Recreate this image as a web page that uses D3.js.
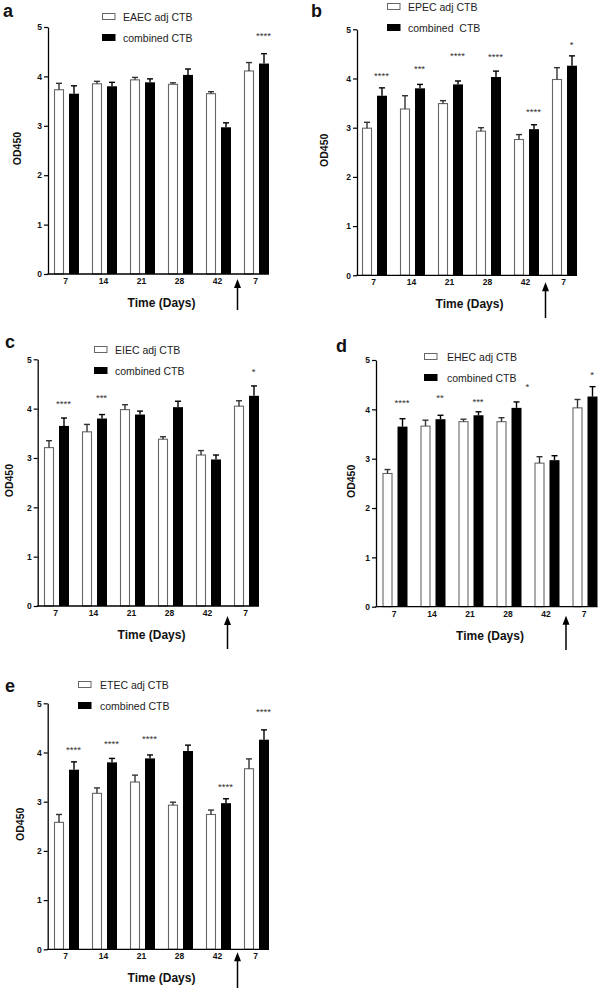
<!DOCTYPE html>
<html>
<head>
<meta charset="utf-8">
<script src="https://cdn.jsdelivr.net/npm/d3@7"></script>
<style>
  html, body { margin: 0; padding: 0; background: #fff; }
  svg { display: block; font-family: "Liberation Sans", Arial, sans-serif; }
</style>
</head>
<body>
<svg id="chart" width="606" height="992"></svg>
<script>
// ---------------- DATA ----------------
const categories = ["7", "14", "21", "28", "42", "7"];
const yTicks = [0, 1, 2, 3, 4, 5];

const combinedCTB = [3.65, 3.80, 3.88, 4.03, 2.97, 4.26];
const combinedErr = [0.16, 0.08, 0.07, 0.12, 0.09, 0.20];

const eaecAdj = [3.73, 3.85, 3.93, 3.84, 3.65, 4.11];
const eaecErr = [0.13, 0.05, 0.05, 0.03, 0.04, 0.17];

const epecAdj = [2.99, 3.38, 3.49, 2.93, 2.76, 3.98];
const epecErr = [0.12, 0.27, 0.06, 0.07, 0.10, 0.24];

const eiecAdj = [3.21, 3.53, 3.98, 3.38, 3.06, 4.05];
const eiecErr = [0.14, 0.15, 0.10, 0.05, 0.09, 0.11];

const ehecAdj = [2.70, 3.66, 3.75, 3.75, 2.91, 4.03];
const ehecErr = [0.08, 0.12, 0.05, 0.08, 0.13, 0.17];

const etecAdj = [2.58, 3.17, 3.40, 2.93, 2.74, 3.67];
const etecErr = [0.16, 0.11, 0.14, 0.06, 0.09, 0.20];

// significance marks: group index, label, height (OD450 units)
const starsA = [{ i: 5, s: "****", v: 4.86 }];
const starsB = [{ i: 0, s: "****", v: 4.09 }, { i: 1, s: "***", v: 4.24 }, { i: 2, s: "****", v: 4.50 },
                { i: 3, s: "****", v: 4.48 }, { i: 4, s: "****", v: 3.36 }, { i: 5, s: "*", v: 4.73 }];
const starsC = [{ i: 0, s: "****", v: 4.14 }, { i: 1, s: "***", v: 4.26 }, { i: 5, s: "*", v: 4.78 }];
const starsD = [{ i: 0, s: "****", v: 4.16 }, { i: 1, s: "**", v: 4.28 }, { i: 2, s: "***", v: 4.19 },
                { i: 3.3, s: "*", v: 4.49 }, { i: 5, s: "*", v: 4.73 }];
const starsE = [{ i: 0, s: "****", v: 4.10 }, { i: 1, s: "****", v: 4.22 }, { i: 2, s: "****", v: 4.31 },
                { i: 4, s: "****", v: 3.33 }, { i: 5, s: "****", v: 4.86 }];

const panelLetters = ["a", "b", "c", "d", "e"];
const adjNames = ["EAEC adj CTB", "EPEC adj CTB", "EIEC adj CTB", "EHEC adj CTB", "ETEC adj CTB"];
const combinedNames = ["combined CTB", "combined  CTB", "combined CTB", "combined CTB", "combined CTB"];
const adjSeries = [eaecAdj, epecAdj, eiecAdj, ehecAdj, etecAdj];
const adjErrors = [eaecErr, epecErr, eiecErr, ehecErr, etecErr];
const starSets = [starsA, starsB, starsC, starsD, starsE];
const xTitle = "Time (Days)";
const yTitle = "OD450";

// ---------------- LAYOUT ----------------
const layouts = [
  { ax: 48,    y0: 274,   y5: 27,    c0: 66.5,  lx: 3,   ly: 17,  bx: 102, by: 13,  tx: 123, yl: 17,  tipOff: 5,  arrowEnd: 310 },
  { ax: 357,   y0: 275.3, y5: 29.3,  c0: 374.5, lx: 311, ly: 17,  bx: 387, by: 3,   tx: 408, yl: 324, tipOff: 7,  arrowEnd: 318 },
  { ax: 37.7,  y0: 606,   y5: 359.3, c0: 56.5,  lx: 5,   ly: 348, bx: 94,  by: 346, tx: 115, yl: 9,   tipOff: 10, arrowEnd: 649 },
  { ax: 376,   y0: 606.7, y5: 360,   c0: 395,   lx: 336, ly: 352, bx: 424, by: 353, tx: 447, yl: 351, tipOff: 9,  arrowEnd: 650 },
  { ax: 47.7,  y0: 949.3, y5: 703.3, c0: 66.5,  lx: 5,   ly: 692, bx: 78,  by: 681, tx: 100, yl: 20,  tipOff: 3,  arrowEnd: 988 }
];

const svg = d3.select("#chart");
const STEP = 38;

layouts.forEach((L, p) => {
  const g = svg.append("g");
  const adj = adjSeries[p], adjE = adjErrors[p];

  const y = d3.scaleLinear().domain([0, 5]).range([L.y0, L.y5]);
  const x = d3.scaleBand().domain(d3.range(categories.length))
    .range([L.c0 - STEP / 2, L.c0 - STEP / 2 + STEP * categories.length]).padding(0);
  const x1 = d3.scaleBand().domain(["adj", "comb"]).range([-12.5, 12.5]).paddingInner(1 / 3);
  const cx = i => x(i) + x.bandwidth() / 2;
  const cxf = v => cx(0) + v * x.step(); // fractional group position

  const rows = categories.map((c, i) => ({ i, c, adj: adj[i], adjE: adjE[i], comb: combinedCTB[i], combE: combinedErr[i] }));

  // bars
  const grp = g.selectAll(".grp").data(rows).join("g").attr("transform", d => `translate(${cx(d.i)},0)`);
  grp.append("rect")
    .attr("x", x1("adj") + 0.5).attr("width", x1.bandwidth() - 1)
    .attr("y", d => y(d.adj)).attr("height", d => y(0) - y(d.adj))
    .attr("fill", "#fff").attr("stroke", "#666").attr("stroke-width", 1.1);
  grp.append("rect")
    .attr("x", x1("comb")).attr("width", x1.bandwidth())
    .attr("y", d => y(d.comb)).attr("height", d => y(0) - y(d.comb))
    .attr("fill", "#000");

  // error bars (upper only)
  const eb = (sel, key, ekey, col, series) => {
    const xc = x1(series) + x1.bandwidth() / 2;
    sel.append("line").attr("x1", xc).attr("x2", xc)
      .attr("y1", d => y(d[key])).attr("y2", d => y(d[key] + d[ekey]))
      .attr("stroke", col).attr("stroke-width", 1.4);
    sel.append("line").attr("x1", xc - 3).attr("x2", xc + 3)
      .attr("y1", d => y(d[key] + d[ekey])).attr("y2", d => y(d[key] + d[ekey]))
      .attr("stroke", col).attr("stroke-width", 1.4);
  };
  eb(grp, "adj", "adjE", "#333", "adj");
  eb(grp, "comb", "combE", "#000", "comb");

  // y axis
  const yAxis = d3.axisLeft(y).tickValues(yTicks).tickFormat(d3.format("d"))
    .tickSize(4).tickSizeOuter(0).tickPadding(2);
  const ya = g.append("g").attr("transform", `translate(${L.ax},0)`).call(yAxis);
  ya.select(".domain").attr("stroke", "#000").attr("stroke-width", 1.3);
  ya.selectAll(".tick line").attr("stroke", "#000").attr("stroke-width", 1.2);
  ya.selectAll(".tick text").attr("font-size", 8.5).attr("font-weight", "bold")
    .attr("font-family", "Liberation Sans, Arial, sans-serif").attr("fill", "#111");

  // x axis
  const xEnd = cx(categories.length - 1) + 12.5;
  g.append("line").attr("x1", L.ax - 0.6).attr("x2", xEnd).attr("y1", L.y0).attr("y2", L.y0)
    .attr("stroke", "#000").attr("stroke-width", 1.3);
  g.selectAll(".xt").data(rows).join("text")
    .attr("x", d => cx(d.i) - 1).attr("y", L.y0 + 10)
    .attr("text-anchor", "middle").attr("font-size", 8.5).attr("font-weight", "bold").attr("fill", "#111")
    .text(d => d.c);

  // x title
  g.append("text").attr("x", (cx(0) + cx(categories.length - 1)) / 2).attr("y", L.y0 + 33)
    .attr("text-anchor", "middle").attr("font-size", 12).attr("font-weight", "bold").attr("fill", "#111")
    .text(xTitle);

  // y title
  g.append("text").attr("transform", `translate(${L.yl + 4},${(L.y0 + L.y5) / 2 - 2}) rotate(-90)`)
    .attr("text-anchor", "middle").attr("font-size", 10.5).attr("font-weight", "bold").attr("fill", "#111")
    .text(yTitle);

  // panel letter
  g.append("text").attr("x", L.lx).attr("y", L.ly).attr("font-size", 18).attr("font-weight", "bold")
    .attr("fill", "#111").text(panelLetters[p]);

  // legend
  const leg = [{ n: adjNames[p], f: "#fff", s: "#666" }, { n: combinedNames[p], f: "#000", s: "#000" }];
  const lg = g.selectAll(".leg").data(leg).join("g").attr("transform", (d, k) => `translate(0,${k * 21})`);
  lg.append("rect").attr("x", L.bx + 0.5).attr("y", L.by + 0.5).attr("width", 12.5).attr("height", 6)
    .attr("fill", d => d.f).attr("stroke", d => d.s).attr("stroke-width", 1);
  lg.append("text").attr("x", L.tx).attr("y", L.by + 7.5).attr("font-size", 10.5).attr("fill", "#222")
    .style("white-space", "pre").attr("xml:space", "preserve").text(d => d.n);

  // significance stars
  g.selectAll(".star").data(starSets[p]).join("text")
    .attr("x", d => cxf(d.i) + 7).attr("y", d => y(d.v) + 5)
    .attr("text-anchor", "middle").attr("font-size", 9.5).attr("fill", "#333")
    .text(d => d.s);

  // boost arrow between day 42 and the final day 7
  const axp = cxf(4.5);
  const tip = L.y0 + L.tipOff;
  g.append("line").attr("x1", axp).attr("x2", axp).attr("y1", tip + 6).attr("y2", L.arrowEnd)
    .attr("stroke", "#000").attr("stroke-width", 1.5);
  g.append("path").attr("d", `M${axp},${tip} L${axp - 3.5},${tip + 9} L${axp + 3.5},${tip + 9} Z`).attr("fill", "#000");
});
</script>
</body>
</html>
